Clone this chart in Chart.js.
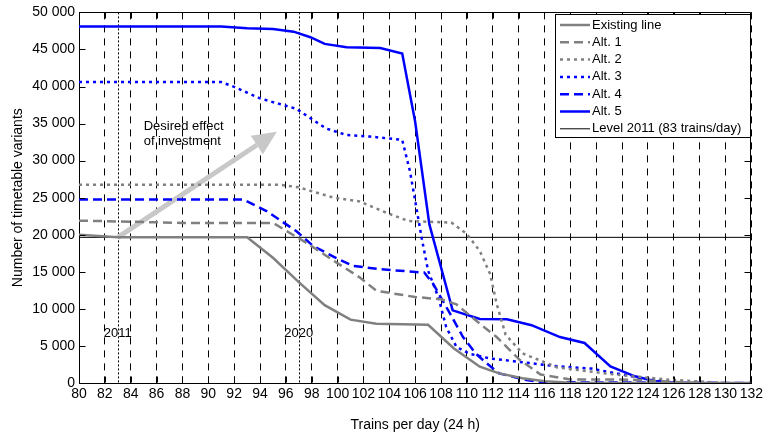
<!DOCTYPE html>
<html>
<head>
<meta charset="utf-8">
<script src="https://cdn.jsdelivr.net/npm/chart.js@4"></script>
<style>
  body { margin: 0; background: #fff; }
  #wrap { width: 766px; height: 434px; }
</style>
</head>
<body>
<div id="wrap"><canvas id="chart" width="766" height="434"></canvas></div>
<script>
// ---------------- Data ----------------
const seriesNames = ["Existing line", "Alt. 1", "Alt. 2", "Alt. 3", "Alt. 4", "Alt. 5"];

const existingX = [80, 83, 93, 95, 97, 99, 101, 103, 107, 109, 111, 112.5, 114.3, 116, 118, 132];
const existingY = [20000, 19650, 19650, 16900, 13600, 10500, 8550, 8000, 7850, 4650, 2200, 1300, 650, 250, 50, 0];

const alt1X = [80, 83, 88, 95, 97.6, 99.7, 101.7, 103, 106, 108, 109.2, 111, 112.3, 114.1, 115.7, 118, 122.7, 126, 128];
const alt1Y = [21900, 21800, 21600, 21600, 18900, 16500, 14250, 12450, 11600, 11300, 10600, 8000, 6200, 3100, 1150, 480, 450, 150, 0];

const alt2X = [80, 95.5, 97, 99.7, 101.7, 103.8, 105.5, 108.8, 110, 111, 111.8, 112.3, 113, 114.3, 117, 121.4, 125.6, 130];
const alt2Y = [26760, 26760, 26400, 25000, 24500, 22950, 21850, 21650, 20100, 17800, 14700, 10700, 6500, 4000, 2100, 1150, 450, 0];

const alt3X = [80, 91, 92, 94, 96.8, 99.1, 100.7, 102.5, 105, 105.6, 106.1, 106.5, 107, 107.8, 108.4, 109.2, 110.2, 111.8, 113.6, 116.7, 119.6, 121.4, 123.5, 126];
const alt3Y = [40600, 40600, 39950, 38400, 37000, 34350, 33450, 33250, 32800, 28550, 23600, 19600, 15150, 11550, 7550, 4850, 3950, 3300, 2950, 2300, 1950, 1350, 650, 0];

const alt4X = [80, 92.7, 94.5, 96.8, 98.1, 99.9, 101.2, 103.3, 106.7, 107.4, 108.7, 109.7, 110.7, 111.5, 112.5, 114.6, 116, 132];
const alt4Y = [24760, 24760, 23200, 20500, 18500, 16850, 15800, 15350, 14900, 13350, 9350, 6200, 3950, 2700, 1300, 400, 100, 0];

const alt5X = [80, 91, 93, 95, 96.6, 97.9, 99, 100.7, 103.3, 105, 106, 107.1, 108.9, 111, 113.1, 115, 117.2, 119.1, 121.1, 123, 124.5, 126];
const alt5Y = [48100, 48100, 47850, 47750, 47400, 46650, 45750, 45300, 45200, 44450, 35250, 21400, 9800, 8650, 8600, 7800, 6200, 5400, 2250, 900, 270, 0];

const levelLabel = "Level 2011 (83 trains/day)";
const levelValue = 19650;

const xMin = 80, xMax = 132, xStep = 2;
const yMin = 0, yMax = 50000, yStep = 5000;

const yearMarks = [83, 97];
const yearLabels = ["2011", "2020"];
const yearLabelY = 6700;

const annText = ["Desired effect", "of investment"];
const annPos = { x: 85, y: [34600, 32600] };
const arrowFrom = { x: 83, y: 19650 };
const arrowTo = { x: 95.3, y: 33900 };

// ---------------- Styles ----------------
const gray = "#808080", blue = "#0000ff";
const dashed = [9, 5], dotted = [3, 4];

function pts(xs, ys) {
  return xs.map((x, i) => ({ x: x, y: ys[i] }));
}

const datasets = [
  { label: seriesNames[0], data: pts(existingX, existingY), borderColor: gray, borderWidth: 2.5, borderDash: [] },
  { label: seriesNames[1], data: pts(alt1X, alt1Y), borderColor: gray, borderWidth: 2.5, borderDash: dashed },
  { label: seriesNames[2], data: pts(alt2X, alt2Y), borderColor: gray, borderWidth: 2.5, borderDash: dotted },
  { label: seriesNames[3], data: pts(alt3X, alt3Y), borderColor: blue, borderWidth: 2.5, borderDash: dotted },
  { label: seriesNames[4], data: pts(alt4X, alt4Y), borderColor: blue, borderWidth: 2.5, borderDash: dashed },
  { label: seriesNames[5], data: pts(alt5X, alt5Y), borderColor: blue, borderWidth: 2.5, borderDash: [] },
  { label: levelLabel, data: pts([xMin, xMax], [levelValue, levelValue]), borderColor: "#000", borderWidth: 1, borderDash: [] },
];
datasets.forEach(d => { d.pointRadius = 0; d.tension = 0; d.fill = false; });

// ---------------- Extras (frame, ticks, annotations, legend) ----------------
function line(ctx, x1, y1, x2, y2) {
  ctx.beginPath();
  ctx.moveTo(x1, y1);
  ctx.lineTo(x2, y2);
  ctx.stroke();
}

const extras = {
  id: "extras",
  beforeDatasetsDraw(chart) {
    const { ctx, chartArea: a, scales: { x, y } } = chart;
    ctx.save();
    // year markers
    ctx.strokeStyle = "#000";
    ctx.lineWidth = 1;
    ctx.setLineDash([2, 2]);
    yearMarks.forEach(v => {
      const px = Math.round(x.getPixelForValue(v)) + 0.5;
      line(ctx, px, a.top, px, a.bottom);
    });
    ctx.setLineDash([]);
    ctx.font = "13px 'Liberation Sans', Arial, sans-serif";
    ctx.fillStyle = "#000";
    ctx.textAlign = "center";
    ctx.textBaseline = "middle";
    yearMarks.forEach((v, i) => {
      ctx.fillText(yearLabels[i], x.getPixelForValue(v), y.getPixelForValue(yearLabelY));
    });

    // arrow
    const x1 = x.getPixelForValue(arrowFrom.x), y1 = y.getPixelForValue(arrowFrom.y);
    const x2 = x.getPixelForValue(arrowTo.x), y2 = y.getPixelForValue(arrowTo.y);
    const ang = Math.atan2(y2 - y1, x2 - x1);
    const headLen = 24, headW = 11;
    const bx = x2 - headLen * Math.cos(ang), by = y2 - headLen * Math.sin(ang);
    ctx.strokeStyle = "#c8c8c8";
    ctx.fillStyle = "#c8c8c8";
    ctx.lineWidth = 5;
    line(ctx, x1, y1, bx, by);
    ctx.beginPath();
    ctx.moveTo(x2, y2);
    ctx.lineTo(bx + headW * Math.sin(ang), by - headW * Math.cos(ang));
    ctx.lineTo(bx - headW * Math.sin(ang), by + headW * Math.cos(ang));
    ctx.closePath();
    ctx.fill();

    // annotation text
    ctx.fillStyle = "#000";
    ctx.textAlign = "left";
    annText.forEach((t, i) => {
      ctx.fillText(t, x.getPixelForValue(annPos.x), y.getPixelForValue(annPos.y[i]));
    });
    ctx.restore();
  },
  afterDraw(chart) {
    const { ctx, chartArea: a, scales: { x, y } } = chart;
    ctx.save();
    ctx.strokeStyle = "#000";
    ctx.lineWidth = 1;
    // top & right frame
    const L = Math.round(a.left) + 0.5, R = Math.round(a.right) - 0.5;
    const T = Math.round(a.top) + 0.5, B = Math.round(a.bottom) - 0.5;
    line(ctx, L, T, R, T);
    line(ctx, R, T, R, B);
    // inward ticks
    const tl = 6;
    for (let v = xMin; v <= xMax; v += xStep) {
      const px = Math.round(x.getPixelForValue(v)) + 0.5;
      line(ctx, px, B, px, B - tl);
      line(ctx, px, T, px, T + tl);
    }
    for (let v = yMin; v <= yMax; v += yStep) {
      const py = Math.round(y.getPixelForValue(v)) + 0.5;
      line(ctx, L, py, L + tl, py);
      line(ctx, R, py, R - tl, py);
    }

    // legend
    const lx = 555.5, ly = 14.5, lw = 195, lh = 123;
    ctx.fillStyle = "#fff";
    ctx.fillRect(lx, ly, lw, lh);
    ctx.strokeRect(lx, ly, lw, lh);
    ctx.font = "13px 'Liberation Sans', Arial, sans-serif";
    ctx.textBaseline = "middle";
    ctx.textAlign = "left";
    chart.data.datasets.forEach((d, i) => {
      const cy = 25 + i * 17.3;
      ctx.strokeStyle = d.borderColor;
      ctx.lineWidth = d.borderWidth;
      ctx.setLineDash(d.borderDash);
      line(ctx, 560, cy, 590, cy);
      ctx.setLineDash([]);
      ctx.fillStyle = "#000";
      ctx.fillText(d.label, 592, cy);
    });
    ctx.restore();
  },
};

// ---------------- Chart ----------------
Chart.defaults.font.family = "'Liberation Sans', Arial, sans-serif";
Chart.defaults.color = "#000";

function fmt(v) {
  return String(v).replace(/\B(?=(\d{3})+(?!\d))/g, " ");
}

const chart = new Chart(document.getElementById("chart"), {
  type: "line",
  data: { datasets },
  options: {
    responsive: false,
    animation: false,
    layout: { padding: { left: 0, right: 14, top: 10, bottom: 0 } },
    plugins: { legend: { display: false }, tooltip: { enabled: false } },
    scales: {
      x: {
        type: "linear",
        min: xMin,
        max: xMax,
        afterFit: s => { s.height = 51; },
        ticks: { stepSize: xStep, autoSkip: false, maxRotation: 0, padding: 3, font: { size: 14 } },
        grid: { color: "#000", lineWidth: 1, drawTicks: false },
        border: { color: "#000", width: 1, dash: [7, 6] },
        title: { display: true, text: "Trains per day (24 h)", font: { size: 14 }, padding: { top: 8, bottom: 0 } },
      },
      y: {
        min: yMin,
        max: yMax,
        afterFit: s => { s.width = 79; },
        ticks: { stepSize: yStep, padding: 4, font: { size: 14 }, callback: v => fmt(v) },
        grid: { display: false, drawTicks: false },
        border: { color: "#000", width: 1 },
        title: { display: true, text: "Number of timetable variants", font: { size: 14 }, padding: { top: 10, bottom: 0 } },
      },
    },
  },
  plugins: [extras],
});
</script>
</body>
</html>
